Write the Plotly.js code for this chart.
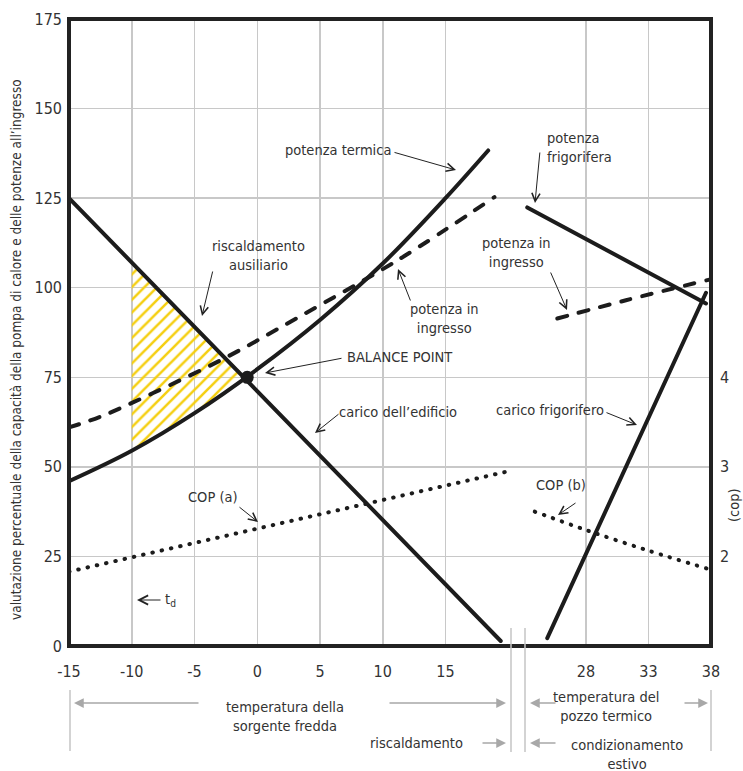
<!DOCTYPE html>
<html><head><meta charset="utf-8">
<script src="https://cdn.plot.ly/plotly-3.0.1.min.js"></script>
<style>
html,body{margin:0;padding:0;background:#fff;}
#chart{width:743px;height:771px;}
.js-line{stroke-linecap:round;}
</style></head><body><div id="chart"></div>
<script>
// ---------- data ----------
// heating side (x = temperatura della sorgente fredda, °C)
const loadX = [-15, 19.4];                 // carico dell'edificio
const loadY = [125, 1.4];
const thermX = [-15, -10, -5, 0, 5, 10, 15, 18.4];   // potenza termica
const thermY = [46, 54.5, 65, 77.25, 91, 106.75, 125, 138.3];
const inHeatX = [-15, -12.5, -8.3, -2.4, 3.3, 11.2, 18.9]; // potenza in ingresso (riscaldamento)
const inHeatY = [61, 64, 70.6, 80.7, 91.8, 107.7, 125.3];
const copAX = [-15, -10, -5, 0, 5, 10, 15, 20.3];        // COP (a)
const copAY = [1.83, 1.99, 2.15, 2.31, 2.47, 2.63, 2.79, 2.96];
const balanceX = [-0.8];
const balanceY = [75];
const hatchBottomX = [-10, -5, -0.8];
const hatchBottomY = [54.5, 65, 75.3];
const hatchTopX = [-10, -0.8];
const hatchTopY = [107, 74.8];
// cooling side (x = temperatura del pozzo termico, °C)
const coolCapX = [23.3, 37.6];             // potenza frigorifera
const coolCapY = [122.4, 95.6];
const inCoolX = [25.7, 31.2, 37.8];        // potenza in ingresso (condizionamento)
const inCoolY = [91.4, 96.5, 102.2];
const coolLoadX = [24.9, 37.6];            // carico frigorifero
const coolLoadY = [2.2, 98.6];
const copBX = [23.9, 28.1, 33.1, 37.8];    // COP (b)
const copBY = [2.50, 2.29, 2.06, 1.86];
// ticks
const xTicks = [-15, -10, -5, 0, 5, 10, 15];
const x2Ticks = [28, 33, 38];
const yTicks = [0, 25, 50, 75, 100, 125, 150, 175];
const copTicks = [2, 3, 4];

// ---------- layout helpers ----------
const W = 743, H = 771;
const L = 69, R = 711, T = 19, B = 646;
const F = "'Liberation Sans Narrow', 'Arial Narrow', 'DejaVu Sans Condensed', sans-serif";
const TXT = '#333';
const px = x => (x - L) / (R - L);
const py = y => (B - y) / (B - T);
const brk = 518;                 // pixel where the two temperature scales meet
const d1 = px(brk);
const xLeftMax = -15 + (brk - L) / 12.55;
const x2Min = 28 - (586 - brk) / 12.5;

function txt(x, y, text, o) {
  o = o || {};
  return {xref: 'paper', yref: 'paper', x: px(x), y: py(y), text: text, showarrow: false,
    xanchor: o.xa || 'center', yanchor: 'middle', align: o.align || 'center',
    textangle: o.angle || 0,
    font: {family: F, size: o.size || 14.5, color: o.color || TXT}};
}
function arr(tx, ty, hx, hy, o) {
  o = o || {};
  return {xref: 'paper', yref: 'paper', x: px(hx), y: py(hy), axref: 'pixel', ayref: 'pixel',
    ax: tx - hx, ay: ty - hy, text: '', showarrow: true, standoff: 0,
    arrowhead: o.head === undefined ? 5 : o.head, arrowsize: o.size || 1.6,
    arrowwidth: o.width || 1, arrowcolor: o.color || '#222'};
}

const K = '#1c1c1c';
const traces = [
  {x: hatchBottomX, y: hatchBottomY, mode: 'lines', line: {width: 0}, hoverinfo: 'skip', xaxis: 'x', yaxis: 'y'},
  {x: hatchTopX, y: hatchTopY, mode: 'lines', line: {width: 0}, fill: 'tonexty', fillcolor: 'rgba(0,0,0,0)',
   fillpattern: {shape: '/', fgcolor: '#f5cf10', bgcolor: 'rgba(255,255,255,0)', size: 9, solidity: 0.28, fillmode: 'replace'},
   hoverinfo: 'skip', xaxis: 'x', yaxis: 'y'},
  {x: inHeatX, y: inHeatY, mode: 'lines', line: {color: K, width: 4, dash: '10px,12px', shape: 'spline'}, xaxis: 'x', yaxis: 'y'},
  {x: thermX, y: thermY, mode: 'lines', line: {color: K, width: 4, shape: 'spline'}, xaxis: 'x', yaxis: 'y'},
  {x: loadX, y: loadY, mode: 'lines', line: {color: K, width: 4}, xaxis: 'x', yaxis: 'y'},
  {x: copAX, y: copAY, mode: 'lines', line: {color: K, width: 4, dash: '0.5px,9px'}, xaxis: 'x', yaxis: 'y2'},
  {x: balanceX, y: balanceY, mode: 'markers', marker: {color: K, size: 13}, xaxis: 'x', yaxis: 'y'},
  {x: coolCapX, y: coolCapY, mode: 'lines', line: {color: K, width: 4}, xaxis: 'x2', yaxis: 'y'},
  {x: inCoolX, y: inCoolY, mode: 'lines', line: {color: K, width: 4, dash: '10px,12px', shape: 'spline'}, xaxis: 'x2', yaxis: 'y'},
  {x: coolLoadX, y: coolLoadY, mode: 'lines', line: {color: K, width: 4}, xaxis: 'x2', yaxis: 'y'},
  {x: copBX, y: copBY, mode: 'lines', line: {color: K, width: 4, dash: '0.5px,9px', shape: 'spline'}, xaxis: 'x2', yaxis: 'y2'}
];

const G = '#c8c8c8';
const axBase = {showgrid: true, gridcolor: G, gridwidth: 1.5, zeroline: false, showline: false,
  ticks: '', tickfont: {family: F, size: 16, color: TXT}, fixedrange: true};

const gray = '#a8a8a8';
const annotations = [
  // y title and cop title
  txt(16, 350, "valutazione percentuale della capacità della pompa di calore e delle potenze all\u2019ingresso", {angle: -90, size: 13.5}),
  txt(734, 505, '(cop)', {angle: -90, size: 14.5}),
  // plot labels
  txt(338, 150, 'potenza termica'),
  arr(393, 152, 456, 170),
  txt(545, 147, 'potenza<br>frigorifera', {xa: 'left', align: 'left'}),
  arr(540, 151, 535, 203),
  txt(516, 252, 'potenza in<br>ingresso'),
  arr(550, 271, 567, 310),
  txt(258, 255, 'riscaldamento<br>ausiliario'),
  arr(213, 270, 202, 316),
  txt(445, 318, 'potenza in<br>ingresso'),
  arr(411, 302, 398, 269),
  txt(400, 357, 'BALANCE POINT'),
  arr(343, 358, 265, 373),
  txt(398, 412, 'carico dell\u2019edificio'),
  arr(340, 413, 315, 433),
  txt(550, 410, 'carico frigorifero'),
  arr(605, 412, 637, 425),
  txt(561, 485, 'COP (b)'),
  arr(577, 502, 558, 515),
  txt(213, 497, 'COP (a)'),
  arr(238, 506, 258, 522),
  txt(170, 600, 't<sub>d</sub>', {size: 14.5}),
  arr(162, 600, 137, 600, {size: 1.8}),
  // bottom explanation
  txt(285, 716, 'temperatura della<br>sorgente fredda'),
  arr(200, 703, 74, 703, {color: gray, head: 2, width: 1.5, size: 1.3}),
  arr(388, 703, 506, 703, {color: gray, head: 2, width: 1.5, size: 1.3}),
  txt(416, 743, 'riscaldamento'),
  arr(481, 743, 506, 743, {color: gray, head: 2, width: 1.5, size: 1.3}),
  txt(606, 706, 'temperatura del<br>pozzo termico'),
  arr(557, 703, 530, 703, {color: gray, head: 2, width: 1.5, size: 1.3}),
  arr(683, 703, 708, 703, {color: gray, head: 2, width: 1.5, size: 1.3}),
  txt(627, 754, 'condizionamento<br>estivo'),
  arr(557, 743, 530, 743, {color: gray, head: 2, width: 1.5, size: 1.3})
];

const vline = (x, y0, y1) => ({type: 'line', xref: 'paper', yref: 'paper', x0: px(x), x1: px(x), y0: py(y0), y1: py(y1),
  line: {color: '#c4c4c4', width: 1.5}, layer: 'above'});
const shapes = [
  {type: 'rect', xref: 'paper', yref: 'paper', x0: 0, x1: 1, y0: 0, y1: 1, line: {color: '#222', width: 4}, layer: 'above'},
  vline(511, 628, 752), vline(525, 628, 752),
  vline(70, 690, 751), vline(711, 690, 751)
];

const layout = {
  width: W, height: H, margin: {l: L, r: W - R, t: T, b: H - B, pad: 0},
  paper_bgcolor: '#fff', plot_bgcolor: '#fff', showlegend: false,
  font: {family: F, size: 16, color: TXT},
  xaxis: Object.assign({}, axBase, {domain: [0, d1], range: [-15, xLeftMax], tickvals: xTicks,
    ticktext: xTicks.map(String), anchor: 'y', ticklabelstandoff: 14}),
  xaxis2: Object.assign({}, axBase, {domain: [d1, 1], range: [x2Min, 38], tickvals: x2Ticks,
    ticktext: x2Ticks.map(String), anchor: 'y', ticklabelstandoff: 14}),
  yaxis: Object.assign({}, axBase, {range: [0, 175], tickvals: yTicks, ticktext: yTicks.map(String), anchor: 'x', ticklabelstandoff: 6}),
  yaxis2: Object.assign({}, axBase, {overlaying: 'y', side: 'right', anchor: 'x2', range: [1, 8], tickvals: copTicks,
    ticktext: copTicks.map(String), showgrid: false, ticklabelstandoff: 8}),
  shapes: shapes,
  annotations: annotations
};

Plotly.newPlot('chart', traces, layout, {staticPlot: true, displayModeBar: false});
</script></body></html>
